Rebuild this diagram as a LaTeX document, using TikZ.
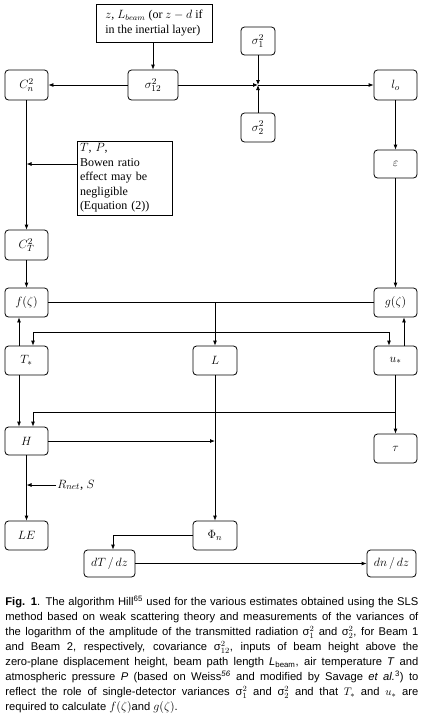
\documentclass[tikz,border=0pt]{standalone}
\usepackage{fontspec}
\setmainfont{Liberation Serif}
\newfontfamily\capfont{Liberation Sans}
\usetikzlibrary{arrows.meta}
\begin{document}
\begin{tikzpicture}[x=1pt,y=-1pt,
  every path/.style={line width=0.8pt},
  arr/.style={-{Latex[length=5pt,width=4pt]}},
  rbox/.style={draw, rounded corners=3.5pt, minimum width=43pt, minimum height=29pt, inner sep=1pt, font=\fontsize{13}{15}\selectfont},
  sbox/.style={draw, inner sep=2pt, font=\fontsize{12}{15}\selectfont},
  lbl/.style={font=\fontsize{13}{15}\selectfont, inner sep=1pt}]
\useasboundingbox (0,0) rectangle (423,721);
% nodes
\node[sbox, minimum width=116pt, minimum height=38pt, align=left] (top) at (154,23) {$z$, $L_{beam}$ (or $z-d$ if\\in the inertial layer)};
\node[rbox, minimum width=34pt, minimum height=28pt] (s1) at (258,41) {$\sigma_1^2$};
\node[rbox, minimum height=30pt] (Cn) at (26.5,85) {$C_n^2$};
\node[rbox, minimum width=50pt, minimum height=30pt] (s12) at (153,85) {$\sigma_{12}^2$};
\node[rbox, minimum height=30pt] (lo) at (395.5,85) {$l_o$};
\coordinate (J) at (258,85);
\node[rbox, minimum width=34pt, minimum height=29pt] (s2) at (258,127.5) {$\sigma_2^2$};
\node[rbox, minimum height=28pt] (eps) at (395.5,164) {$\varepsilon$};
\node[sbox, minimum width=95pt, minimum height=74pt, text width=89pt, align=left, font=\fontsize{12}{14.5}\selectfont] (TP) at (124.5,178) {$T$, $P$,\\Bowen ratio\\effect may be\\negligible\\(Equation (2))};
\node[rbox, minimum height=30pt] (CT) at (26.5,245) {$C_T^2$};
\node[rbox] (f) at (26.5,302.5) {$f(\zeta)$};
\node[rbox] (g) at (395.5,302.5) {$g(\zeta)$};
\node[rbox] (Ts) at (26.5,360.5) {$T_*$};
\node[rbox, minimum width=44pt] (L) at (215,360.5) {$L$};
\node[rbox] (us) at (395.5,360.5) {$u_*$};
\node[rbox, minimum height=28pt] (H) at (26.5,441) {$H$};
\node[rbox] (tau) at (395.5,448.5) {$\tau$};
\node[lbl, anchor=west] (rn) at (56,485) {$R_{net}$, $S$};
\node[rbox] (LE) at (26.5,535.5) {$LE$};
\node[rbox, minimum width=44pt] (Phi) at (215,535.5) {$\Phi_n$};
\node[rbox, minimum width=51pt, minimum height=27pt] (dT) at (109.5,563.5) {$dT\,/\,dz$};
\node[rbox, minimum width=49pt, minimum height=27pt] (dn) at (391.5,563.5) {$dn\,/\,dz$};
% connectors
\draw[arr] (top.south -| s12.north) -- (s12.north);
\draw[arr] (s12.west) -- (Cn.east);
\draw[arr] (s12.east) -- (J);
\draw[arr] (s1.south) -- (J);
\draw[arr] (s2.north) -- (J);
\draw[arr] (J) -- (lo.west);
\draw[arr] (lo.south) -- (eps.north);
\draw[arr] (eps.south) -- (g.north);
\draw[arr] (Cn.south) -- (CT.north);
\coordinate (tpa) at (77,164);
\draw[arr] (tpa) -- (tpa -| Cn.south);
\draw[arr] (CT.south) -- (f.north);
\draw (f.east) -- (g.west);
\coordinate (fg) at (f.east -| L.north);
\draw[arr] (fg) -- (L.north);
\coordinate (k) at (215,332);
\draw[arr] (k) -| ([xshift=6.5pt]Ts.north);
\draw[arr] (k) -| ([xshift=-6.5pt]us.north);
\draw[arr] ([xshift=-7.5pt]Ts.north) -- ([xshift=-7.5pt]f.south);
\draw[arr] ([xshift=8.5pt]us.north) -- ([xshift=8.5pt]g.south);
\draw[arr] ([xshift=-7.5pt]Ts.south) -- ([xshift=-7.5pt]H.north);
\draw[arr] (us.south) -- (tau.north);
\coordinate (m) at (us.south |- 0,412);
\draw[arr] (m) -| ([xshift=6.5pt]H.north);
\draw[arr] (H.east) -- (H.east -| L.south);
\draw[arr] (L.south) -- (Phi.north);
\draw[arr] (H.south) -- (LE.north);
\draw[arr] (rn.west) -- (rn.west -| H.south);
\draw[arr] (Phi.west) -| ([xshift=3.5pt]dT.north);
\draw[arr] (dT.east) -- (dn.west);
% caption
\node[anchor=north west, inner sep=0pt, text width=413pt, align=justify,
  font=\capfont\fontsize{11.2}{15}\selectfont] (cap) at (5,596)
{\textbf{Fig. 1}. The algorithm Hill\textsuperscript{65} used for the various estimates obtained using the SLS\linebreak
method based on weak scattering theory and measurements of the variances of\linebreak
the logarithm of the amplitude of the transmitted radiation $\mbox{σ}^{2}_{1}$ and $\mbox{σ}^{2}_{2}$, for Beam 1\linebreak
and Beam 2, respectively, covariance $\mbox{σ}^{2}_{12}$, inputs of beam height above the\linebreak
zero-plane displacement height, beam path length \textit{L}\textsubscript{beam}, air temperature \textit{T} and\linebreak
atmospheric pressure \textit{P} (based on Weiss\textsuperscript{\textit{56}} and modified by Savage \textit{et al.}\textsuperscript{3}) to\linebreak
reflect the role of single-detector variances $\mbox{σ}^{2}_{1}$ and $\mbox{σ}^{2}_{2}$ and that $T_*$ and $u_*$ are\linebreak
required to calculate {\large $f(\zeta)$}and {\large $g(\zeta)$}.};
\end{tikzpicture}
\end{document}
